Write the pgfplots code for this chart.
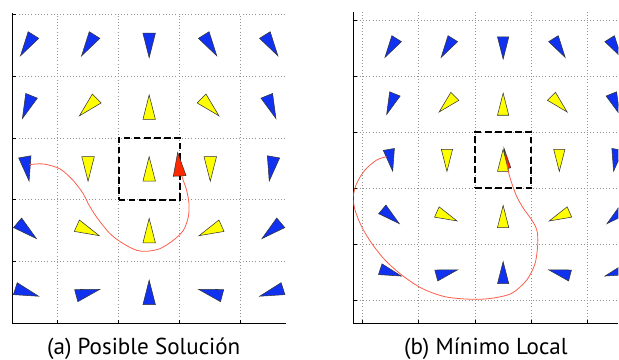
\documentclass[border=0pt]{standalone}
\usepackage{pgfplots}
\usepackage{pgfplotstable}
\usepackage{fontspec}
\setmainfont{PT Sans}
\pgfplotsset{compat=1.18}

\definecolor{fieldblue}{RGB}{16,50,240}
\definecolor{fieldyellow}{RGB}{255,255,0}
\definecolor{robotred}{RGB}{255,40,0}
\definecolor{pathred}{RGB}{250,95,75}

% narrow isosceles triangle pointing along +x, centred on the point
\pgfdeclareplotmark{fieldtri}{%
  \pgfpathmoveto{\pgfpoint{\pgfplotmarksize}{0pt}}%
  \pgfpathlineto{\pgfpoint{-\pgfplotmarksize}{0.51\pgfplotmarksize}}%
  \pgfpathlineto{\pgfpoint{-\pgfplotmarksize}{-0.51\pgfplotmarksize}}%
  \pgfpathclose
  \pgfusepathqfillstroke
}

\pgfplotsset{
  field/.style={
    only marks, scatter, mark=fieldtri,
    visualization depends on={\thisrow{a} \as \ang},
    scatter/@pre marker code/.code={\pgfscope\pgftransformrotate{\ang}},
    scatter/@post marker code/.code={\endpgfscope},
  },
  panel/.style={
    scale only axis,
    axis x line*=bottom, axis y line*=left,
    axis line style={black, line width=0.7pt},
    tick align=inside, major tick length=2.5pt,
    tick style={black, line width=0.6pt},
    xtick={0.5,1.5,...,5.5}, ytick={0.5,1.5,...,5.5},
    xticklabel=\empty, yticklabel=\empty,
    grid=major,
    major grid style={gray!85, dotted, line width=0.6pt},
    clip marker paths=true,
  },
}

% orientation field: position and heading (degrees) of each triangle
\pgfplotstableread{
x y a
1 5 238
2 5 238
3 5 270
4 5 302
5 5 302
1 4 248
5 4 292
1 3 280
5 3 260
1 2 320
5 2 220
1 1 342
2 1 15
3 1 90
4 1 165
5 1 198
}\bluefield

\pgfplotstableread{
x y a
2 4 225
3 4 90
4 4 315
2 3 270
3 3 90
4 3 270
2 2 336
3 2 90
4 2 204
}\yellowfield

\begin{document}
\begin{tikzpicture}[x=1pt,y=1pt]

% (a) possible solution
\begin{axis}[panel,
  at={(9.225pt,27.5pt)}, anchor=south west,
  width=205.3pt, height=232.5pt,
  xmin=0.76, xmax=5.24, ymin=0.5, ymax=5.52]
  \addplot[black, line width=1.5pt, dash pattern=on 5pt off 2.6pt]
    coordinates {(2.5,2.5) (3.5,2.5) (3.5,3.5) (2.5,3.5)} --cycle;
  \addplot[field, mark size=9.2pt,
    mark options={draw=black!80, fill=fieldblue, line width=0.4pt}] table {\bluefield};
  \addplot[field, mark size=9.2pt,
    mark options={draw=black!80, fill=fieldyellow, line width=0.4pt}] table {\yellowfield};
  \addplot[draw=black!80, fill=robotred, line width=0.4pt]
    coordinates {(3.467,3.268) (3.395,2.881) (3.603,2.892)} --cycle;
  \addplot[pathred, line width=0.6pt, smooth, tension=0.5] coordinates {
    (1.038,3.069) (1.267,3.081) (1.541,3.000) (1.758,2.811) (1.922,2.597)
    (2.004,2.435) (2.141,2.219) (2.359,1.952) (2.577,1.790) (2.796,1.682)
    (2.960,1.666) (3.177,1.710) (3.395,1.844) (3.559,2.005) (3.640,2.219)
    (3.652,2.435) (3.614,2.650) (3.559,2.811) (3.532,2.892)};
\end{axis}

% (b) local minimum
\begin{axis}[panel,
  at={(264.98pt,27.75pt)}, anchor=south west,
  width=198.75pt, height=233.5pt,
  xmin=0.333, xmax=5.05, ymin=0.103, ymax=5.648]
  \addplot[black, line width=1.5pt, dash pattern=on 5pt off 2.6pt]
    coordinates {(2.5,2.5) (3.5,2.5) (3.5,3.5) (2.5,3.5)} --cycle;
  \addplot[field, mark size=8.3pt,
    mark options={draw=black!80, fill=fieldblue, line width=0.4pt}] table {\bluefield};
  \addplot[draw=black!80, fill=robotred, line width=0.4pt]
    coordinates {(3.016,3.215) (3.052,2.846) (3.136,2.869)} --cycle;
  \addplot[field, mark size=8.3pt,
    mark options={draw=black!80, fill=fieldyellow, line width=0.4pt}] table {\yellowfield};
  \addplot[pathred, line width=0.6pt, smooth, tension=0.5] coordinates {
    (0.927,3.065) (0.749,3.006) (0.541,2.828) (0.393,2.591) (0.333,2.353)
    (0.363,2.116) (0.482,1.818) (0.660,1.522) (0.897,1.225) (1.195,0.958)
    (1.551,0.721) (1.966,0.571) (2.441,0.525) (2.797,0.543) (3.154,0.632)
    (3.421,0.869) (3.569,1.166) (3.617,1.522) (3.599,1.759) (3.510,1.937)
    (3.360,2.146) (3.243,2.353) (3.154,2.591) (3.093,2.798) (3.065,2.947)};
\end{axis}

\node[anchor=base, font=\fontsize{17.3}{20}\selectfont] at (107.8,4) {(a) Posible Solución};
\node[anchor=base, font=\fontsize{17.3}{20}\selectfont] at (364.4,4) {(b) Mínimo Local};

\pgfresetboundingbox
\useasboundingbox (0,0) rectangle (464.25,270);
\end{tikzpicture}
\end{document}
